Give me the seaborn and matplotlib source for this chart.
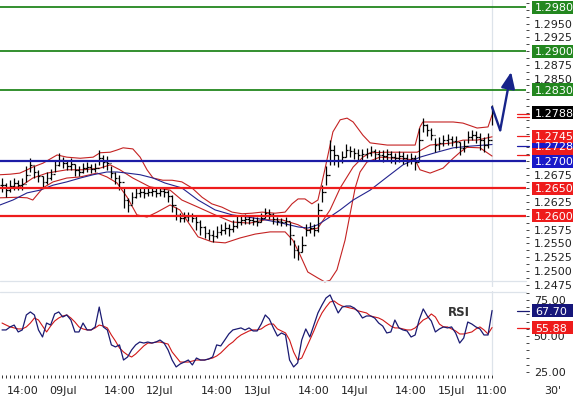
import numpy as np
import pandas as pd
import matplotlib
matplotlib.use("Agg")
import matplotlib.pyplot as plt
import matplotlib.transforms as mtrans
from matplotlib.patches import Rectangle
from matplotlib.lines import Line2D
import seaborn as sns

# ---------------- data (hourly bars, hours since 08Jul 08:30) ----------------
close = [
    1.2656, 1.2647, 1.2655, 1.2660, 1.2656, 1.2658, 1.2675, 1.2693, 1.2680, 1.2673,
    1.2662, 1.2669, 1.2676, 1.2693, 1.2702, 1.2696, 1.2691, 1.2695, 1.2684, 1.2680,
    1.2687, 1.2689, 1.2685, 1.2687, 1.2705, 1.2698, 1.2696, 1.2678, 1.2669, 1.2662,
    1.2629, 1.2620, 1.2634, 1.2642, 1.2644, 1.2642, 1.2644, 1.2645, 1.2642, 1.2645,
    1.2644, 1.2636, 1.2620, 1.2602, 1.2596, 1.2598, 1.2600, 1.2596, 1.2589, 1.2580,
    1.2569, 1.2565, 1.2564, 1.2571, 1.2574, 1.2578, 1.2576, 1.2582, 1.2589, 1.2593,
    1.2594, 1.2593, 1.2591, 1.2589, 1.2596, 1.2605, 1.2604, 1.2594, 1.2591, 1.2589,
    1.2591, 1.2565, 1.2538, 1.2534, 1.2547, 1.2574, 1.2578, 1.2574, 1.2611, 1.2644,
    1.2675, 1.2720, 1.2711, 1.2702, 1.2707, 1.2720, 1.2718, 1.2715, 1.2711, 1.2713,
    1.2715, 1.2718, 1.2713, 1.2711, 1.2709, 1.2713, 1.2707, 1.2705, 1.2709, 1.2705,
    1.2702, 1.2705, 1.2698, 1.2738, 1.2766, 1.2756, 1.2747, 1.2729, 1.2733, 1.2738,
    1.2740, 1.2736, 1.2735, 1.2724, 1.2727, 1.2744, 1.2747, 1.2744, 1.2738, 1.2729,
    1.2738, 1.2788]
high = [
    1.2669, 1.2660, 1.2665, 1.2669, 1.2665, 1.2669, 1.2691, 1.2705, 1.2691, 1.2684,
    1.2673, 1.2680, 1.2685, 1.2702, 1.2715, 1.2707, 1.2702, 1.2705, 1.2695, 1.2691,
    1.2696, 1.2698, 1.2695, 1.2696, 1.2720, 1.2711, 1.2709, 1.2691, 1.2680, 1.2675,
    1.2651, 1.2633, 1.2644, 1.2651, 1.2653, 1.2651, 1.2653, 1.2653, 1.2651, 1.2653,
    1.2651, 1.2647, 1.2638, 1.2616, 1.2605, 1.2607, 1.2607, 1.2605, 1.2600, 1.2593,
    1.2582, 1.2576, 1.2574, 1.2582, 1.2585, 1.2589, 1.2585, 1.2593, 1.2600, 1.2602,
    1.2604, 1.2600, 1.2598, 1.2598, 1.2605, 1.2615, 1.2613, 1.2605, 1.2598, 1.2596,
    1.2598, 1.2589, 1.2556, 1.2547, 1.2564, 1.2585, 1.2589, 1.2585, 1.2624, 1.2656,
    1.2691, 1.2738, 1.2729, 1.2711, 1.2718, 1.2731, 1.2727, 1.2724, 1.2722, 1.2722,
    1.2724, 1.2727, 1.2722, 1.2720, 1.2720, 1.2722, 1.2718, 1.2715, 1.2718, 1.2716,
    1.2713, 1.2715, 1.2711, 1.2760, 1.2778, 1.2767, 1.2760, 1.2742, 1.2744, 1.2747,
    1.2749, 1.2746, 1.2746, 1.2735, 1.2738, 1.2755, 1.2756, 1.2755, 1.2751, 1.2744,
    1.2751, 1.2802]
low = [
    1.2644, 1.2634, 1.2644, 1.2647, 1.2647, 1.2647, 1.2662, 1.2680, 1.2669, 1.2662,
    1.2651, 1.2658, 1.2665, 1.2680, 1.2691, 1.2687, 1.2684, 1.2684, 1.2673, 1.2673,
    1.2678, 1.2680, 1.2678, 1.2680, 1.2693, 1.2687, 1.2684, 1.2669, 1.2658, 1.2647,
    1.2615, 1.2607, 1.2622, 1.2633, 1.2634, 1.2633, 1.2636, 1.2636, 1.2634, 1.2636,
    1.2634, 1.2625, 1.2607, 1.2593, 1.2589, 1.2589, 1.2591, 1.2589, 1.2574, 1.2565,
    1.2560, 1.2556, 1.2553, 1.2560, 1.2565, 1.2567, 1.2564, 1.2571, 1.2578, 1.2584,
    1.2585, 1.2585, 1.2584, 1.2582, 1.2589, 1.2596, 1.2594, 1.2585, 1.2584, 1.2582,
    1.2582, 1.2547, 1.2523, 1.2520, 1.2534, 1.2564, 1.2569, 1.2564, 1.2571, 1.2625,
    1.2656, 1.2693, 1.2693, 1.2689, 1.2696, 1.2707, 1.2707, 1.2704, 1.2702, 1.2702,
    1.2705, 1.2709, 1.2702, 1.2700, 1.2698, 1.2702, 1.2696, 1.2695, 1.2698, 1.2695,
    1.2691, 1.2695, 1.2684, 1.2702, 1.2753, 1.2746, 1.2738, 1.2716, 1.2720, 1.2727,
    1.2729, 1.2727, 1.2724, 1.2711, 1.2716, 1.2733, 1.2738, 1.2733, 1.2720, 1.2716,
    1.2724, 1.2766]

rsi = [
    54.2, 54.2, 56.3, 57.6, 52.8, 54.2, 64.6, 66.7, 64.6, 54.2,
    49.3, 59.0, 57.6, 65.3, 66.7, 63.2, 64.6, 61.1, 52.8, 52.8,
    59.0, 54.2, 54.2, 56.3, 70.1, 56.3, 54.2, 43.8, 42.4, 43.8,
    33.3, 35.4, 40.3, 43.8, 45.8, 45.1, 45.8, 45.1, 45.8, 47.2,
    45.1, 40.3, 33.3, 28.5, 30.6, 31.9, 33.3, 29.9, 34.7, 33.3,
    33.3, 34.0, 35.4, 43.8, 43.1, 47.2, 51.4, 54.2, 54.9, 55.6,
    54.2, 55.6, 53.5, 53.5, 58.3, 64.6, 61.8, 55.6, 50.0, 52.1,
    50.7, 33.3, 28.5, 31.3, 47.2, 54.9, 49.3, 57.6, 66.0, 71.5,
    76.4, 78.5, 72.2, 66.0, 70.1, 70.8, 70.8, 69.4, 66.7, 62.5,
    63.9, 63.9, 62.5, 59.0, 56.9, 52.1, 52.8, 61.1, 55.6, 54.2,
    53.5, 49.3, 50.7, 61.1, 68.8, 63.9, 60.4, 52.8, 54.9, 56.3,
    55.6, 56.3, 52.1, 45.1, 48.6, 59.7, 58.3, 56.3, 54.9, 50.7,
    50.7, 67.7]
rsi_signal = [
    59.0, 57.6, 56.3, 55.6, 54.9, 54.9, 56.3, 59.0, 62.5, 61.1,
    56.9, 52.8, 56.9, 60.4, 62.5, 63.9, 64.6, 62.5, 59.7, 56.3,
    54.9, 54.2, 54.2, 55.6, 57.6, 56.9, 55.6, 50.7, 46.5, 41.7,
    38.9, 36.8, 35.4, 37.5, 40.3, 43.1, 45.1, 45.1, 45.8, 45.8,
    45.1, 44.4, 38.9, 35.4, 31.9, 31.9, 31.9, 32.6, 33.3, 33.3,
    33.3, 34.0, 34.7, 36.1, 38.2, 41.0, 43.8, 45.8, 48.6, 50.7,
    52.1, 53.5, 54.2, 54.2, 54.9, 56.9, 58.3, 58.3, 54.9, 53.5,
    52.1, 47.2, 38.9, 33.3, 34.7, 41.0, 47.2, 53.5, 60.4, 66.0,
    70.1, 73.6, 74.3, 72.2, 70.8, 70.1, 69.4, 68.8, 67.4, 66.7,
    66.0, 63.9, 63.2, 62.5, 61.1, 59.0, 56.9, 55.6, 55.6, 54.9,
    54.2, 54.2, 55.6, 58.3, 61.1, 62.5, 65.3, 63.2, 58.3, 56.3,
    56.3, 54.9, 53.5, 51.4, 51.4, 52.1, 52.8, 54.9, 56.3, 54.2,
    51.4, 55.88]

# Bollinger bands and moving average, read at sample times (hours)
bb_up_t = [0.0, 2.5, 4.9, 6.7, 8.1, 10.6, 14.1, 16.5, 19.8, 23.0, 24.7, 27.2, 28.9, 30.4,
           32.8, 34.6, 36.3, 37.8, 40.2, 42.5, 44.9, 47.4, 49.9, 52.3, 54.8, 57.3, 59.8,
           62.2, 64.7, 67.9, 70.4, 72.1, 73.6, 75.3, 77.0, 78.5, 80.2, 82.2, 84.0, 85.7,
           87.2, 89.6, 91.4, 95.6, 99.5, 102.5, 103.7, 104.4, 106.9, 111.9, 114.3, 117.8,
           120.5, 121.5]
bb_up = [1.2675, 1.2676, 1.2678, 1.2684, 1.2689, 1.2696, 1.2711, 1.2707, 1.2705, 1.2707,
         1.2715, 1.2716, 1.2720, 1.2724, 1.2722, 1.2707, 1.2684, 1.2669, 1.2665, 1.2665,
         1.2662, 1.2651, 1.2634, 1.2622, 1.2616, 1.2607, 1.2604, 1.2605, 1.2607, 1.2605,
         1.2607, 1.2622, 1.2631, 1.2631, 1.2622, 1.2629, 1.2684, 1.2753, 1.2775, 1.2778,
         1.2771, 1.2747, 1.2733, 1.2729, 1.2729, 1.2729, 1.2762, 1.2771, 1.2771, 1.2771,
         1.2769, 1.2760, 1.2762, 1.2784]
bb_mid_t = [0.0, 4.9, 8.1, 11.6, 16.5, 20.5, 24.7, 27.2, 29.6, 32.8, 37.0, 42.0, 44.9, 48.9,
            53.1, 57.3, 61.7, 65.4, 69.6, 73.6, 76.0, 78.5, 81.5, 84.0, 87.2, 89.6, 91.4,
            95.6, 99.5, 103.0, 106.2, 111.9, 114.3, 117.8, 121.5]
bb_mid = [1.2651, 1.2653, 1.2669, 1.2678, 1.2684, 1.2684, 1.2687, 1.2693, 1.2684, 1.2669,
          1.2653, 1.2647, 1.2629, 1.2616, 1.2602, 1.2589, 1.2587, 1.2593, 1.2593, 1.2584,
          1.2574, 1.2578, 1.2611, 1.2651, 1.2689, 1.2707, 1.2715, 1.2716, 1.2716, 1.2716,
          1.2729, 1.2733, 1.2738, 1.2738, 1.2744]
bb_lo_t = [0.0, 4.2, 6.7, 8.1, 10.6, 13.1, 16.5, 19.8, 22.2, 24.0, 26.4, 28.9, 31.4, 33.8,
           36.3, 38.8, 42.0, 44.4, 48.9, 52.3, 55.6, 59.3, 63.0, 66.7, 70.4, 72.3, 74.1,
           76.0, 78.5, 80.2, 81.5, 83.2, 85.2, 86.4, 87.7, 88.9, 90.6, 93.8, 98.0, 102.5,
           103.7, 106.2, 109.4, 111.9, 113.6, 115.3, 118.5, 121.5]
bb_lo = [1.2633, 1.2634, 1.2633, 1.2629, 1.2651, 1.2662, 1.2669, 1.2671, 1.2675, 1.2678,
         1.2671, 1.2660, 1.2634, 1.2602, 1.2598, 1.2607, 1.2620, 1.2611, 1.2562, 1.2553,
         1.2551, 1.2560, 1.2567, 1.2571, 1.2571, 1.2556, 1.2529, 1.2498, 1.2487, 1.2480,
         1.2483, 1.2502, 1.2556, 1.2602, 1.2651, 1.2680, 1.2698, 1.2707, 1.2705, 1.2702,
         1.2684, 1.2678, 1.2687, 1.2705, 1.2716, 1.2725, 1.2724, 1.2709]
ma_t = [0.0, 3.2, 6.7, 9.9, 13.1, 16.5, 19.8, 23.0, 26.4, 28.9, 31.4, 34.6, 37.8, 40.7,
        44.9, 48.9, 53.1, 57.3, 61.2, 65.4, 69.6, 73.6, 76.0, 78.5, 81.0, 84.0, 87.2,
        91.4, 95.6, 99.5, 103.7, 107.9, 111.9, 116.0, 121.5]
ma = [1.2620, 1.2629, 1.2642, 1.2647, 1.2656, 1.2662, 1.2669, 1.2675, 1.2680, 1.2680,
      1.2678, 1.2675, 1.2669, 1.2660, 1.2651, 1.2629, 1.2611, 1.2602, 1.2598, 1.2593,
      1.2587, 1.2580, 1.2578, 1.2584, 1.2596, 1.2611, 1.2629, 1.2647, 1.2671, 1.2693,
      1.2707, 1.2716, 1.2724, 1.2727, 1.2730]

# forecast arrow
arrow_t = [121.5, 123.5, 126.2]
arrow_p = [1.2798, 1.2756, 1.2862]

green_levels = [1.2980, 1.2900, 1.2830]
blue_levels = [1.2700]
red_levels = [1.2650, 1.2600]
indicator_values = [1.2728, 1.2711, 1.2745]   # MA, lower band, middle band at the last bar

xtick_pos = [5.5, 15.5, 29.5, 39.5, 53.5, 63.5, 77.5, 87.5, 101.5, 111.5, 121.5]
xtick_lab = ["14:00", "09Jul", "14:00", "12Jul", "14:00", "13Jul", "14:00", "14Jul",
             "14:00", "15Jul", "11:00"]

# ---------------- style ----------------
sns.set_style("white")
plt.rcParams['font.family'] = ['DejaVu Sans']

W, H = 573, 397
fig = plt.figure(figsize=(W / 100, H / 100), dpi=100)
PX_PER_H = 4.05
RIGHT = 526
ax = fig.add_axes([0, 1 - 287 / H, RIGHT / W, 287 / H])
ax2 = fig.add_axes([0, 1 - 375 / H, RIGHT / W, 84 / H])
for a in (ax, ax2):
    a.set_xlim(0, RIGHT / PX_PER_H)
    for s in a.spines.values():
        s.set_visible(False)
    a.set_facecolor('none')
ax.set_ylim(1.24707, 1.29930)
ax2.set_ylim(22.9, 81.25)

GREEN = '#23871f'
BLUE_LINE = '#1c1ca6'
BLUE_BOX = '#1818c8'
RED = '#ee1c1c'
BAND = '#c42222'
NAVY = '#23238e'
GRID = '#dde3ea'

# light frame lines
for yy in (281, 292):
    fig.add_artist(Line2D([0, RIGHT / W], [1 - yy / H] * 2, transform=fig.transFigure,
                          color=GRID, lw=0.9))
for a in (ax, ax2):
    a.axvline(121.5, color=GRID, lw=0.9, zorder=0)

# ---------------- price panel ----------------
t = np.arange(len(close)) + 0.5
c = np.array(close)
opens = np.r_[c[0], c[:-1]]

sns.lineplot(x=bb_up_t, y=bb_up, ax=ax, color=BAND, lw=0.8, zorder=1)
sns.lineplot(x=bb_mid_t, y=bb_mid, ax=ax, color=BAND, lw=0.8, zorder=1)
sns.lineplot(x=bb_lo_t, y=bb_lo, ax=ax, color=BAND, lw=0.8, zorder=1)
sns.lineplot(x=ma_t, y=ma, ax=ax, color=NAVY, lw=0.8, zorder=1)

ax.vlines(t, low, high, color='black', lw=0.9, zorder=2)
ax.hlines(c, t, t + 0.45, color='black', lw=0.9, zorder=2)
ax.hlines(opens, t - 0.45, t, color='black', lw=0.9, zorder=2)

for v in green_levels:
    ax.axhline(v, color=GREEN, lw=1.3, zorder=3)
for v in blue_levels:
    ax.axhline(v, color=BLUE_LINE, lw=1.6, zorder=3)
for v in red_levels:
    ax.axhline(v, color=RED, lw=1.6, zorder=3)

ax.plot(arrow_t[:2], arrow_p[:2], color='#17248a', lw=1.7, zorder=4, solid_capstyle='round')
ax.annotate('', xy=(arrow_t[2], arrow_p[2]), xytext=(arrow_t[1], arrow_p[1]),
            arrowprops=dict(arrowstyle='-|>,head_length=0.7,head_width=0.3', color='#17248a',
                            lw=1.7, shrinkA=0, shrinkB=0, mutation_scale=14), zorder=4,
            annotation_clip=False)

ax.set_xlabel('')
ax.set_ylabel('')
ax.yaxis.tick_right()
pt = np.round(np.arange(1.2475, 1.2976, 0.0025), 4)
boxed = green_levels + blue_levels + red_levels + indicator_values + [close[-1]]
pt_labels = []
for v in pt:
    hidden = any(abs(v - b) < 0.0019 for b in boxed)
    pt_labels.append('' if hidden else f"{v:.4f}")
ax.set_yticks(pt)
ax.set_yticklabels(pt_labels)
ax.set_yticks(np.round(np.arange(1.24875, 1.2990, 0.0025), 5), minor=True)
ax.tick_params(axis='y', which='both', direction='out', length=2.5, width=0.7, color='#444',
               labelsize=8, labelcolor='#222', pad=3, right=True, left=False)
ax.tick_params(axis='y', which='minor', length=1.8)
ax.tick_params(axis='x', which='both', bottom=False, labelbottom=False)

# ---------------- RSI panel ----------------
sns.lineplot(x=t, y=rsi_signal, ax=ax2, color='#d01818', lw=0.8)
sns.lineplot(x=t, y=rsi, ax=ax2, color='#1a1a72', lw=0.9)
ax2.text(113.3, 66.0, "RSI", fontweight='bold', fontsize=8.5, color='#333',
         ha='center', va='center')
ax2.set_xlabel('')
ax2.set_ylabel('')
ax2.yaxis.tick_right()
ax2.set_yticks([25, 50, 75])
ax2.set_yticklabels(["25.00", "50.00", "75.00"])
ax2.set_yticks(np.arange(30, 81, 5), minor=True)
ax2.tick_params(axis='y', which='both', direction='out', length=2.5, width=0.7, color='#444',
                labelsize=8, labelcolor='#222', pad=3, right=True, left=False)
ax2.tick_params(axis='y', which='minor', length=1.8)
ax2.set_xticks(xtick_pos)
ax2.set_xticklabels(xtick_lab)
ax2.set_xticks(t, minor=True)
ax2.tick_params(axis='x', which='both', direction='out', length=2.2, width=0.7, color='#333',
                labelsize=8, labelcolor='#222', pad=5.5, bottom=True)

fig.text(553 / W, 1 - 391 / H, "30'", fontsize=8, color='#222', ha='center', va='center')


# ---------------- right-hand value labels ----------------
def marker(a, y, color):
    tr = mtrans.blended_transform_factory(fig.transFigure, a.transData)
    a.add_line(Line2D([517 / W, 529 / W], [y, y], transform=tr, color=color, lw=0.9,
                      clip_on=False, zorder=9))


def value_label(a, y, text, fc, ax_h_px, show_text=True):
    tr = mtrans.blended_transform_factory(fig.transFigure, a.transData)
    lo, hi = a.get_ylim()
    h = 13 * (hi - lo) / ax_h_px
    a.add_patch(Rectangle((532 / W, y - h / 2), (W - 532) / W + 0.01, h, transform=tr,
                          facecolor=fc, edgecolor='none', clip_on=False, zorder=10))
    if show_text:
        a.text(535 / W, y, text, transform=tr, color='white', fontsize=8, ha='left',
               va='center_baseline', clip_on=False, zorder=11)


# indicator markers
marker(ax, 1.2786, RED)
marker(ax, 1.2780, RED)
marker(ax, indicator_values[2], RED)
marker(ax, indicator_values[0], BLUE_LINE)
marker(ax, indicator_values[1], RED)
value_label(ax, indicator_values[0], f"{indicator_values[0]:.4f}", BLUE_BOX, 287)
value_label(ax, indicator_values[1], f"{indicator_values[1]:.4f}", RED, 287, show_text=False)
value_label(ax, indicator_values[2], f"{indicator_values[2]:.4f}", RED, 287)
for v in green_levels:
    value_label(ax, v, f"{v:.4f}", GREEN, 287)
for v in blue_levels:
    value_label(ax, v, f"{v:.4f}", BLUE_BOX, 287)
for v in red_levels:
    value_label(ax, v, f"{v:.4f}", RED, 287)
value_label(ax, close[-1], f"{close[-1]:.4f}", 'black', 287)

marker(ax2, rsi[-1], '#1a1a72')
marker(ax2, rsi_signal[-1], RED)
value_label(ax2, rsi[-1], f"{rsi[-1]:.2f}", '#16167a', 84)
value_label(ax2, rsi_signal[-1], f"{rsi_signal[-1]:.2f}", RED, 84)

fig.savefig("out.png", dpi=100)
